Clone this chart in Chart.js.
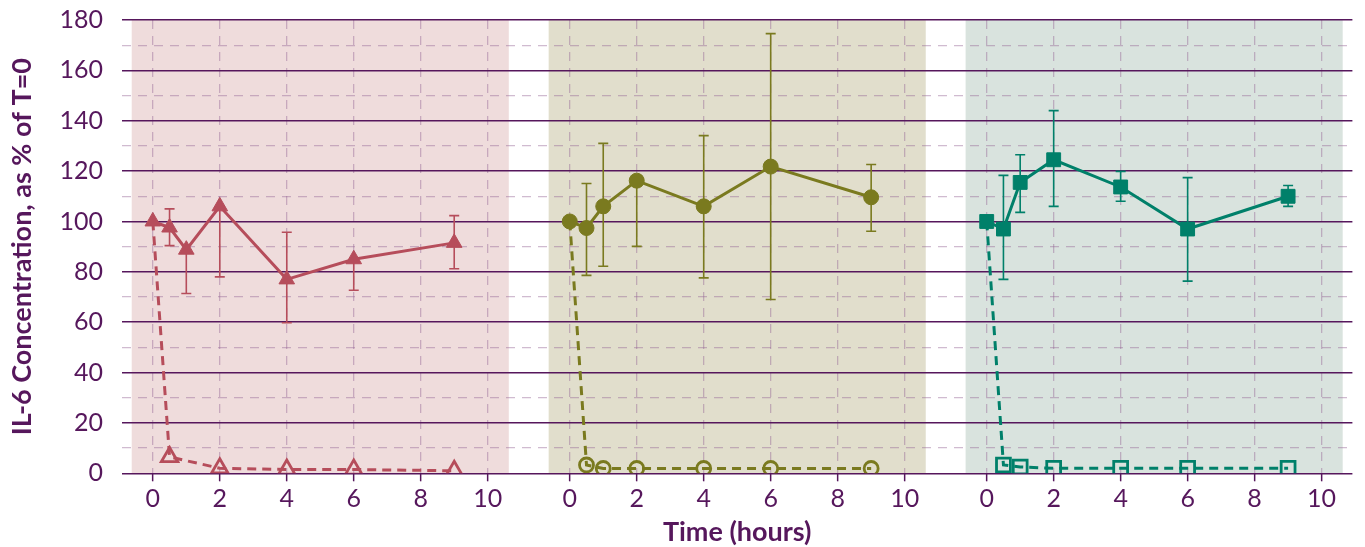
<!DOCTYPE html>
<html>
<head>
<meta charset="utf-8">
<script src="https://cdn.jsdelivr.net/npm/chart.js@4.4.1/dist/chart.umd.min.js"></script>
<style>
  html, body { margin: 0; padding: 0; background: #fff; }
  #wrap { width: 1365px; height: 547px; }
</style>
</head>
<body>
<div id="wrap"><canvas id="il6" width="1365" height="547"></canvas></div>
<script>
// data
const panelOffsets = [0, 12.45, 24.9];          // where each panel starts on the shared x scale
const tickHours = [0, 2, 4, 6, 8, 10];
const yTicks = [0, 20, 40, 60, 80, 100, 120, 140, 160, 180];

const solidHours = [0, 0.5, 1, 2, 4, 6, 9];
const dashHoursA = [0, 0.5, 2, 4, 6, 9];
const dashHoursB = [0, 0.5, 1, 2, 4, 6, 9];

const redSolid = [100, 97.6, 88.8, 106, 77, 85, 91.5];
const redHi = [null, 105, null, null, 95.7, null, 102.3];
const redLo = [null, 90.4, 71.4, 78, 59.8, 72.7, 81.2];
const redDash = [100, 6.5, 2, 1.5, 1.5, 1];

const oliveSolid = [100, 97.4, 106, 116.2, 106, 121.8, 109.6];
const oliveHi = [null, 115.1, 131, null, 134.1, 174.6, 122.6];
const oliveLo = [null, 78.6, 82.2, 90.1, 77.6, 69, 96.1];
const oliveDash = [100, 3.3, 1.9, 1.9, 1.9, 1.9, 1.9];

const tealSolid = [100, 97, 115.5, 124.5, 113.7, 97, 110];
const tealHi = [null, 118.3, 126.5, 144, 119.9, 117.4, 114.3];
const tealLo = [null, 77, 103.6, 106, 108, 76.3, 106];
const tealDash = [100, 3.3, 2.5, 2, 2, 2, 2];

// colours
const purple = '#56175c';
const gridSoft = 'rgba(150, 105, 150, 0.45)';
const panelBg = ['#efdcdc', '#e1decc', '#d9e3de'];
const red = '#b64d5b';
const olive = '#7a7a1f';
const teal = '#00806a';

const pts = (hours, vals, off) => hours.map((h, i) => ({ x: h + off, y: vals[i] }));

function solidSet(hours, vals, off, color, style, r, hi, lo) {
    return {
        data: pts(hours, vals, off),
        borderColor: color,
        backgroundColor: color,
        borderWidth: 3,
        pointStyle: style,
        pointRadius: r,
        pointBorderWidth: 1,
        pointBackgroundColor: color,
        errHi: hi,
        errLo: lo
    };
}

function dashSet(hours, vals, off, color, style, r) {
    return {
        data: pts(hours, vals, off),
        borderColor: color,
        backgroundColor: 'transparent',
        borderWidth: 3,
        borderDash: [9, 6],
        pointStyle: style,
        pointRadius: hours.map((h, i) => i === 0 ? 0 : r),
        pointBorderWidth: 2.8,
        pointBackgroundColor: 'transparent'
    };
}

// 패널 배경
const panelShade = {
    id: 'panelShade',
    beforeDraw(chart) {
        const { ctx, chartArea, scales: { x } } = chart;
        ctx.save();
        panelOffsets.forEach((off, k) => {
            const l = x.getPixelForValue(off - 0.63);
            const r = x.getPixelForValue(off + 10.63);
            ctx.fillStyle = panelBg[k];
            ctx.fillRect(l, chartArea.top, r - l, chartArea.bottom - chartArea.top);
        });
        ctx.restore();
    }
};

// 오차 막대
const errorBars = {
    id: 'errorBars',
    beforeDatasetsDraw(chart) {
        const { ctx, scales: { x, y } } = chart;
        ctx.save();
        chart.data.datasets.forEach((ds) => {
            if (!ds.errHi) return;
            ctx.strokeStyle = ds.borderColor;
            ctx.lineWidth = 1.6;
            ds.data.forEach((p, i) => {
                const px = x.getPixelForValue(p.x);
                const py = y.getPixelForValue(p.y);
                [ds.errHi[i], ds.errLo[i]].forEach((v) => {
                    if (v == null) return;
                    const ey = y.getPixelForValue(v);
                    ctx.beginPath();
                    ctx.moveTo(px, py);
                    ctx.lineTo(px, ey);
                    ctx.moveTo(px - 5, ey);
                    ctx.lineTo(px + 5, ey);
                    ctx.stroke();
                });
            });
        });
        ctx.restore();
    }
};

Chart.defaults.font.family = 'Lato, "Open Sans", sans-serif';
Chart.defaults.color = purple;

new Chart(document.getElementById('il6'), {
    type: 'line',
    data: {
        datasets: [
            solidSet(solidHours, redSolid, panelOffsets[0], red, 'triangle', 9, redHi, redLo),
            solidSet(solidHours, oliveSolid, panelOffsets[1], olive, 'circle', 7.5, oliveHi, oliveLo),
            solidSet(solidHours, tealSolid, panelOffsets[2], teal, 'rect', 9.8, tealHi, tealLo),
            dashSet(dashHoursA, redDash, panelOffsets[0], red, 'triangle', 9.5),
            dashSet(dashHoursB, oliveDash, panelOffsets[1], olive, 'circle', 7),
            dashSet(dashHoursB, tealDash, panelOffsets[2], teal, 'rect', 9.8)
        ]
    },
    options: {
        responsive: false,
        animation: false,
        layout: { padding: { left: 4, right: 5, top: 20, bottom: 0 } },
        plugins: { legend: { display: false }, tooltip: { enabled: false } },
        scales: {
            x: {
                type: 'linear',
                min: -0.92,
                max: 35.82,
                afterBuildTicks: (scale) => {
                    scale.ticks = panelOffsets.flatMap(off => tickHours.map(h => ({ value: h + off })));
                },
                afterFit: (scale) => {
                    scale.paddingLeft = 0;
                    scale.paddingRight = 0;
                },
                ticks: {
                    autoSkip: false,
                    maxRotation: 0,
                    padding: 3,
                    font: { size: 25 },
                    callback: (value) => {
                        const off = panelOffsets.filter(o => o <= value + 0.01).pop();
                        return Math.round(value - off);
                    }
                },
                grid: {
                    color: gridSoft,
                    lineWidth: 1.3,
                    tickColor: purple,
                    tickLength: 8,
                    tickWidth: 1.5
                },
                border: { display: false, dash: [9, 7] },
                title: {
                    display: true,
                    text: 'Time (hours)',
                    font: { size: 27, weight: 'bold', lineHeight: 1.1 },
                    padding: { top: 0, bottom: 0 }
                }
            },
            y: {
                min: 0,
                max: 180,
                afterBuildTicks: (scale) => {
                    scale.ticks = yTicks.map(v => ({ value: v }));
                },
                afterFit: (scale) => {
                    scale.width = 118;
                    scale.paddingTop = 0;
                    scale.paddingBottom = 0;
                },
                ticks: { padding: 19, font: { size: 25 } },
                grid: { color: purple, lineWidth: 1.5, drawTicks: false },
                border: { display: false },
                title: {
                    display: true,
                    text: 'IL-6 Concentration, as % of T=0',
                    font: { size: 27, weight: 'bold', lineHeight: 1.1 },
                    padding: { top: 3, bottom: 10 }
                }
            },
            y2: {
                position: 'left',
                min: 0,
                max: 180,
                ticks: { display: false, stepSize: 10 },
                grid: {
                    color: (c) => (c.tick && c.tick.value % 20 === 0) ? 'transparent' : gridSoft,
                    lineWidth: 1.3,
                    drawTicks: false
                },
                border: { display: false, dash: [9, 7] },
                afterFit: (scale) => { scale.width = 0; scale.paddingTop = 0; scale.paddingBottom = 0; }
            }
        }
    },
    plugins: [panelShade, errorBars]
});
</script>
</body>
</html>
